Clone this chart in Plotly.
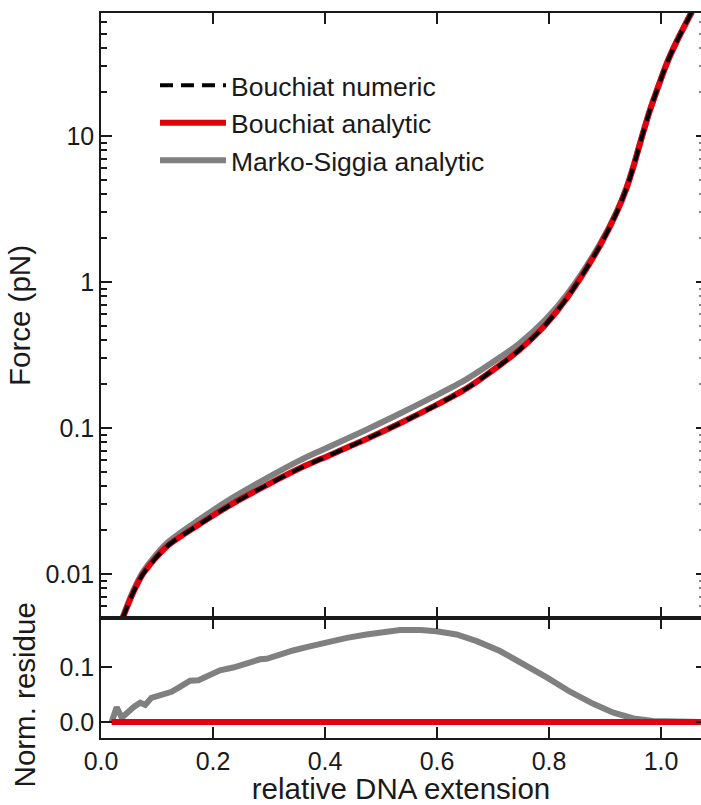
import plotly.graph_objects as go

# ---- data ----
ext_force = [0.0387, 0.057, 0.0756, 0.117, 0.177, 0.236, 0.296, 0.355, 0.391, 0.474,
             0.534, 0.593, 0.653, 0.7125, 0.748, 0.793, 0.834, 0.891, 0.921, 0.9387,
             0.9506, 0.9595, 0.968, 0.980, 0.992, 1.010, 1.028, 1.055]
force_bouchiat_numeric = [0.0050, 0.0074, 0.0101, 0.0154, 0.0221, 0.0305, 0.0407, 0.053, 0.0610, 0.0840,
                          0.1077, 0.140, 0.187, 0.270, 0.345, 0.506, 0.796, 1.77, 3.00, 4.42,
                          6.14, 8.09, 10.5, 14.9, 20.2, 31.2, 44.4, 70.8]
force_bouchiat_analytic = [0.0050, 0.0074, 0.0101, 0.0154, 0.0221, 0.0305, 0.0407, 0.053, 0.0610, 0.0840,
                           0.1077, 0.140, 0.187, 0.270, 0.345, 0.506, 0.796, 1.77, 3.00, 4.42,
                           6.14, 8.09, 10.5, 14.9, 20.2, 31.2, 44.4, 70.8]
force_marko_siggia = [0.00506, 0.0076, 0.01043, 0.0162, 0.0238, 0.0335, 0.0454, 0.060, 0.0697, 0.0974,
                      0.1257, 0.1632, 0.2164, 0.305, 0.382, 0.548, 0.840, 1.82, 3.04, 4.46,
                      6.18, 8.12, 10.53, 14.92, 20.22, 31.2, 44.4, 70.8]

ext_residue_ms = [0.019, 0.028, 0.037, 0.046, 0.058, 0.070, 0.079, 0.090, 0.105, 0.126,
                  0.141, 0.159, 0.174, 0.195, 0.2125, 0.236, 0.260, 0.284, 0.296, 0.320,
                  0.343, 0.367, 0.391, 0.415, 0.439, 0.474, 0.504, 0.534, 0.570, 0.599,
                  0.635, 0.671, 0.7125, 0.754, 0.796, 0.8375, 0.879, 0.915, 0.951, 0.986,
                  1.022, 1.071]
residue_ms = [0.0, 0.027, 0.008, 0.017, 0.027, 0.035, 0.031, 0.044, 0.049, 0.055,
              0.064, 0.075, 0.076, 0.086, 0.094, 0.099, 0.107, 0.114, 0.115, 0.124,
              0.130, 0.136, 0.142, 0.148, 0.153, 0.159, 0.164, 0.167, 0.167, 0.165,
              0.159, 0.147, 0.129, 0.106, 0.081, 0.055, 0.033, 0.017, 0.0065, 0.002,
              0.0, 0.0]

ext_residue_b = [0.019, 0.2, 0.4, 0.5, 0.55, 0.6, 0.65, 0.7, 0.75, 0.9, 1.0, 1.071]
residue_b = [0.0, 0.0, 0.0, 0.0005, -0.001, 0.001, -0.0005, 0.001, 0.0, -0.001, 0.0, 0.0]

x_ticks = [0.0, 0.2, 0.4, 0.6, 0.8, 1.0]
y_ticks_force = [0.01, 0.1, 1, 10]
y_ticklabels_force = ["0.01", "0.1", "1", "10"]
y_ticks_res = [0.0, 0.1]

FONT = "Liberation Sans, Arial, sans-serif"
BLACK = "#1a1a1a"
RED = "#e3000f"
GRAY = "#808080"
XR = [0, 1.0714]
YR = [-2.301, 1.842]
YR2 = [-0.029, 0.189]
split = 0.1655

fig = go.Figure()

# top panel (drawn gray -> red -> black dashed)
fig.add_trace(go.Scatter(x=ext_force, y=force_marko_siggia, mode="lines", name="Marko-Siggia analytic",
                         line=dict(color=GRAY, width=6, shape="spline", smoothing=0.8),
                         legendrank=3, xaxis="x", yaxis="y"))
fig.add_trace(go.Scatter(x=ext_force, y=force_bouchiat_analytic, mode="lines", name="Bouchiat analytic",
                         line=dict(color=RED, width=6, shape="spline", smoothing=0.8),
                         legendrank=2, xaxis="x", yaxis="y"))
fig.add_trace(go.Scatter(x=ext_force, y=force_bouchiat_numeric, mode="lines", name="Bouchiat numeric",
                         line=dict(color="black", width=4, dash="13px,8px", shape="spline", smoothing=0.8),
                         legendrank=1, xaxis="x", yaxis="y"))

# bottom panel
fig.add_trace(go.Scatter(x=ext_residue_ms, y=residue_ms, mode="lines", showlegend=False,
                         line=dict(color=GRAY, width=6), xaxis="x2", yaxis="y2"))
fig.add_trace(go.Scatter(x=ext_residue_b, y=residue_b, mode="lines", showlegend=False,
                         line=dict(color=RED, width=6), xaxis="x2", yaxis="y2"))

# hidden anchors for right-side tick axes
fig.add_trace(go.Scatter(x=[ext_force[0]], y=[force_bouchiat_numeric[0]], mode="markers",
                         marker=dict(opacity=0), showlegend=False, hoverinfo="skip",
                         xaxis="x", yaxis="y3"))
fig.add_trace(go.Scatter(x=[ext_residue_b[0]], y=[residue_b[0]], mode="markers",
                         marker=dict(opacity=0), showlegend=False, hoverinfo="skip",
                         xaxis="x2", yaxis="y4"))

axis_common = dict(showgrid=False, zeroline=False, linecolor=BLACK, linewidth=1.5,
                   tickcolor=BLACK, tickwidth=1.5, ticks="inside",
                   tickfont=dict(family=FONT, size=25, color=BLACK))
TITLE_FONT = dict(family=FONT, size=29.5, color=BLACK)

fig.update_layout(
    width=701, height=805,
    margin=dict(l=101, r=0, t=13, b=67),
    paper_bgcolor="white", plot_bgcolor="white",
    font=dict(family=FONT, color=BLACK),
    showlegend=True,
    legend=dict(x=0.09, y=0.933, xanchor="left", yanchor="top",
                bgcolor="rgba(0,0,0,0)", font=dict(family=FONT, size=26.5, color=BLACK),
                traceorder="normal", itemwidth=66),
    xaxis=dict(**axis_common, domain=[0, 1], range=XR, anchor="y", mirror="ticks", showline=True,
               tickvals=x_ticks, showticklabels=False, ticklen=11),
    yaxis=dict(**axis_common, domain=[split, 1], type="log", range=YR, anchor="x", showline=True,
               tickvals=y_ticks_force, ticktext=y_ticklabels_force, ticklen=11,
               minor=dict(ticks="inside", ticklen=6, tickcolor=BLACK, tickwidth=1.5, dtick="D1", showgrid=False),
               title=dict(text="Force (pN)", font=TITLE_FONT, standoff=6)),
    yaxis3=dict(domain=[split, 1], type="log", range=YR, overlaying="y", side="right", anchor="x",
                showline=False, showgrid=False, zeroline=False, ticks="inside", ticklen=5,
                tickcolor=BLACK, tickwidth=1.5, tickvals=y_ticks_force, showticklabels=False,
                minor=dict(ticks="inside", ticklen=2, tickcolor="#888", tickwidth=1.5, dtick="D1", showgrid=False)),
    xaxis2=dict(**axis_common, domain=[0, 1], range=XR, anchor="y2", mirror="ticks", showline=True,
                tickvals=x_ticks, tickformat=".1f", ticklen=11,
                title=dict(text="relative DNA extension", font=TITLE_FONT, standoff=6)),
    yaxis2=dict(**axis_common, domain=[0, split], range=YR2, anchor="x2", showline=True,
                tickvals=y_ticks_res, tickformat=".1f", ticklen=11),
    yaxis4=dict(domain=[0, split], range=YR2, overlaying="y2", side="right", anchor="x2",
                showline=False, showgrid=False, zeroline=False, ticks="inside", ticklen=5,
                tickcolor=BLACK, tickwidth=1.5, tickvals=y_ticks_res, showticklabels=False),
    annotations=[dict(text="Norm. residue", textangle=-90, xref="paper", yref="paper",
                      x=-0.128, y=0.059, xanchor="center", yanchor="middle", showarrow=False,
                      font=TITLE_FONT)],
)

fig.write_html("out.html", config={"displayModeBar": False})

# remove the default page margin so the figure sits at the window's top-left corner
with open("out.html", "r", encoding="utf-8") as f:
    html = f.read()
html = html.replace("<head>", "<head><style>html,body{margin:0;padding:0;overflow:hidden;}</style>", 1)
with open("out.html", "w", encoding="utf-8") as f:
    f.write(html)
